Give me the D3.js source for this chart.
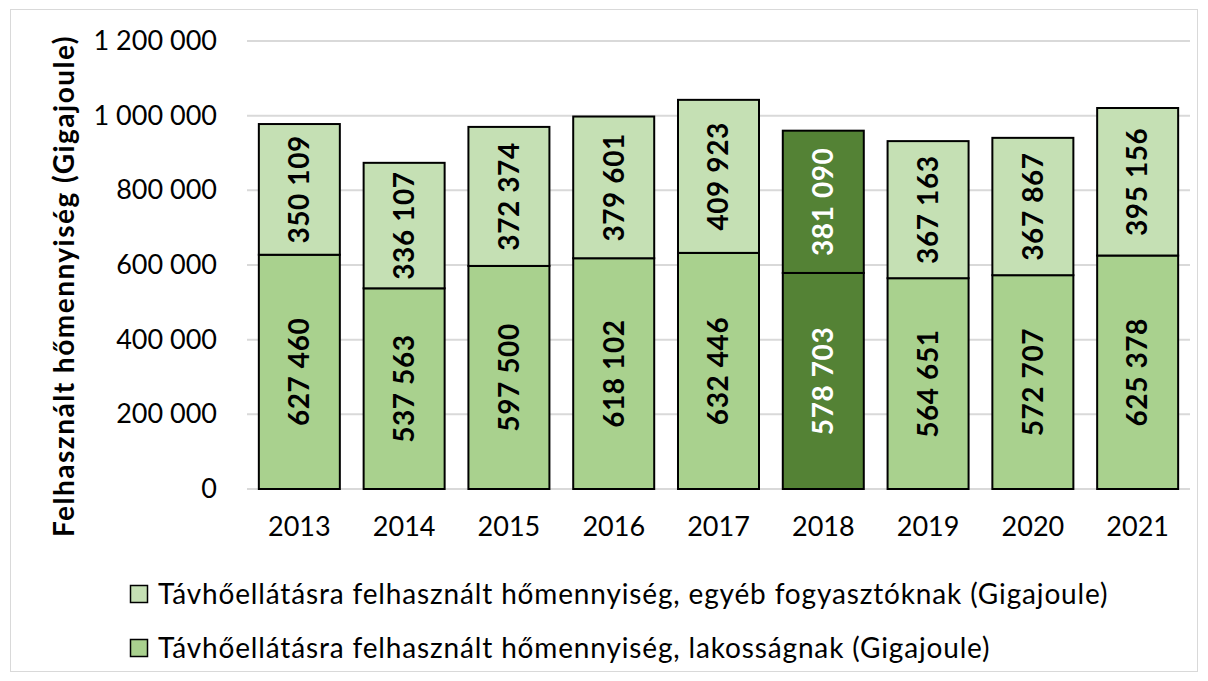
<!DOCTYPE html>
<html>
<head>
<meta charset="utf-8">
<script src="https://cdn.jsdelivr.net/npm/d3@7"></script>
<style>
  body { margin: 0; background: #fff; }
  svg text { font-family: Lato, "Open Sans", sans-serif; }
</style>
</head>
<body>
<div id="chart"></div>
<script>
const years = ['2013', '2014', '2015', '2016', '2017', '2018', '2019', '2020', '2021']
const lakossag = [627460, 537563, 597500, 618102, 632446, 578703, 564651, 572707, 625378]
const egyeb = [350109, 336107, 372374, 379601, 409923, 381090, 367163, 367867, 395156]
const yTicks = [0, 200000, 400000, 600000, 800000, 1000000, 1200000]
const seriesNames = [
  'Távhőellátásra felhasznált hőmennyiség, egyéb fogyasztóknak (Gigajoule)',
  'Távhőellátásra felhasznált hőmennyiség, lakosságnak (Gigajoule)'
]
const highlightYear = '2018'

const width = 1208
const height = 681
const margin = {top: 41, right: 18, bottom: 192, left: 247}
const FONT_SIZE = 27

const COLORS = {top: '#c5e0b4', bottom: '#a9d18e', dark: '#548235'}

const fmt = v => d3.format(',')(v).replace(/,/g, ' ')

const svg = d3.select('#chart').append('svg')
  .attr('width', width).attr('height', height)

// outer chart frame
svg.append('rect')
  .attr('x', 10.5).attr('y', 9.5).attr('width', width - 21).attr('height', height - 19)
  .attr('fill', '#fff').attr('stroke', '#d9d9d9').attr('stroke-width', 1)

const x = d3.scaleBand().domain(years)
  .range([margin.left, width - margin.right]).paddingInner(0.227).paddingOuter(0.113)
const y = d3.scaleLinear().domain([0, 1200000]).range([height - margin.bottom, margin.top])

// gridlines
svg.append('g')
  .selectAll('line')
  .data(yTicks)
  .enter()
  .append('line')
  .attr('x1', margin.left).attr('x2', width - margin.right)
  .attr('y1', d => y(d)).attr('y2', d => y(d))
  .attr('stroke', '#d9d9d9').attr('stroke-width', 2)

// y axis
const yAxis = d3.axisLeft(y).tickValues(yTicks).tickFormat(fmt).tickSize(0).tickPadding(0)
svg.append('g')
  .attr('transform', `translate(217, 0)`)
  .call(yAxis)
  .call(g => g.select('.domain').remove())
  .call(g => g.selectAll('text').attr('font-size', FONT_SIZE).attr('fill', '#000')
    .attr('font-family', 'Lato, sans-serif'))

// x axis
const xAxis = d3.axisBottom(x).tickSize(0).tickPadding(0)
svg.append('g')
  .attr('transform', `translate(0, ${height - margin.bottom + 28})`)
  .call(xAxis)
  .call(g => g.select('.domain').remove())
  .call(g => g.selectAll('text').attr('font-size', FONT_SIZE).attr('fill', '#000')
    .attr('font-family', 'Lato, sans-serif'))

// stacked bars
const rows = years.map((yr, i) => ({year: yr, lak: lakossag[i], egy: egyeb[i]}))

const groups = svg.selectAll('g.bar_group')
  .data(rows)
  .enter()
  .append('g')
  .classed('bar_group', true)

groups.append('rect')
  .attr('x', d => x(d.year)).attr('width', x.bandwidth())
  .attr('y', d => y(d.lak)).attr('height', d => y(0) - y(d.lak))
  .attr('fill', d => d.year === highlightYear ? COLORS.dark : COLORS.bottom)
  .attr('stroke', '#000').attr('stroke-width', 2)

groups.append('rect')
  .attr('x', d => x(d.year)).attr('width', x.bandwidth())
  .attr('y', d => y(d.lak + d.egy)).attr('height', d => y(d.lak) - y(d.lak + d.egy))
  .attr('fill', d => d.year === highlightYear ? COLORS.dark : COLORS.top)
  .attr('stroke', '#000').attr('stroke-width', 2)

// value labels, rotated
const label = (sel, getMid, getVal) => sel.append('text')
  .attr('transform', d => `translate(${x(d.year) + x.bandwidth() / 2}, ${getMid(d)}) rotate(-90)`)
  .attr('text-anchor', 'middle').attr('dy', '0.35em')
  .attr('font-size', 28).attr('font-weight', 'bold').attr('letter-spacing', 0.6)
  .attr('fill', d => d.year === highlightYear ? '#fff' : '#000')
  .text(d => fmt(getVal(d)))

label(groups, d => (y(0) + y(d.lak)) / 2, d => d.lak)
label(groups, d => (y(d.lak) + y(d.lak + d.egy)) / 2, d => d.egy)

// y axis title
svg.append('text')
  .attr('transform', 'translate(64, 286) rotate(-90)')
  .attr('text-anchor', 'middle').attr('dy', '0.35em')
  .attr('font-size', 28).attr('font-weight', 'bold').attr('letter-spacing', 1.5).attr('fill', '#000')
  .text('Felhasznált hőmennyiség (Gigajoule)')

// legend
const legend = svg.selectAll('g.legend_item')
  .data(seriesNames)
  .enter()
  .append('g')
  .classed('legend_item', true)
  .attr('transform', (d, i) => `translate(130, ${594 + i * 54})`)

legend.append('rect')
  .attr('x', 0.5).attr('y', -8.5).attr('width', 17).attr('height', 17)
  .attr('fill', (d, i) => i === 0 ? COLORS.top : COLORS.bottom)
  .attr('stroke', '#000').attr('stroke-width', 1.5)

legend.append('text')
  .attr('x', 28).attr('dy', '0.35em')
  .attr('font-size', 28).attr('letter-spacing', 0.85).attr('fill', '#000')
  .text(d => d)
</script>
</body>
</html>
